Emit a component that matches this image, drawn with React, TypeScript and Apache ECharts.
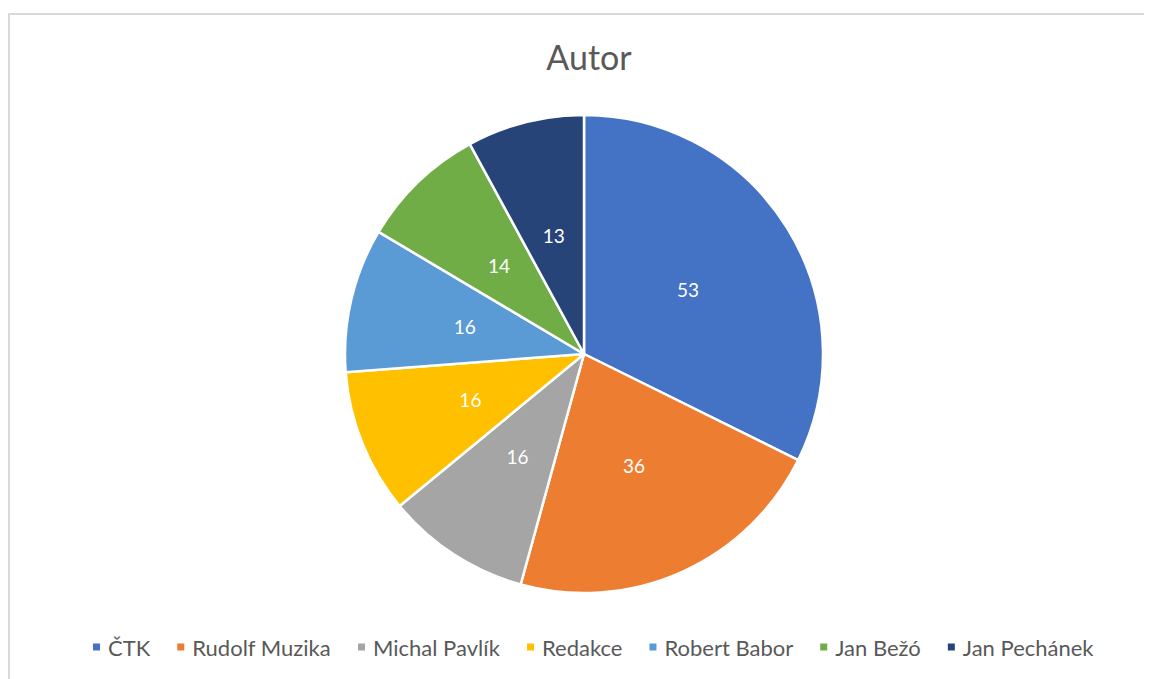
import React, { useEffect, useRef } from "react";
import * as echarts from "echarts";

const categories = ["ČTK", "Rudolf Muzika", "Michal Pavlík", "Redakce", "Robert Babor", "Jan Bežó", "Jan Pechánek"];
const values = [53, 36, 16, 16, 16, 14, 13];
const colors = ["#4472C4", "#ED7D31", "#A5A5A5", "#FFC000", "#5B9BD5", "#70AD47", "#264478"];
const title = "Autor";

const FONT = "Lato, 'Open Sans', sans-serif";

export default function App() {
  const ref = useRef<HTMLDivElement>(null);
  useEffect(() => {
    if (!ref.current) return;
    const chart = echarts.init(ref.current, undefined, { renderer: "svg" });
    chart.setOption({
      animation: false,
      backgroundColor: "#ffffff",
      title: {
        text: title,
        left: 576,
        top: 26,
        textAlign: "center",
        textStyle: { fontFamily: FONT, fontSize: 34, fontWeight: "normal", color: "#595959" },
      },
      legend: {
        data: categories,
        left: 78,
        top: 623,
        icon: "rect",
        itemWidth: 9,
        itemHeight: 9,
        itemGap: 25,
        textStyle: { fontFamily: FONT, fontSize: 22, color: "#595959", padding: [0, 0, 0, 2] },
      },
      graphic: [
        {
          type: "rect",
          shape: { x: 1, y: 6, width: 1200, height: 700 },
          style: { fill: "none", stroke: "#d9d9d9", lineWidth: 2 },
          silent: true,
        },
      ],
      series: [
        {
          type: "pie",
          center: [576, 346],
          radius: [0, 239],
          startAngle: 90,
          clockwise: true,
          data: categories.map((c, i) => ({ name: c, value: values[i], itemStyle: { color: colors[i] } })),
          itemStyle: { borderColor: "#ffffff", borderWidth: 2.5 },
          label: {
            show: true,
            position: "inside",
            formatter: "{c}",
            color: "#ffffff",
            fontFamily: FONT,
            fontSize: 19,
          },
          labelLine: { show: false },
          emphasis: { disabled: true },
        },
      ],
    });
    return () => chart.dispose();
  }, []);
  return <div ref={ref} style={{ width: 1144, height: 671 }} />;
}
